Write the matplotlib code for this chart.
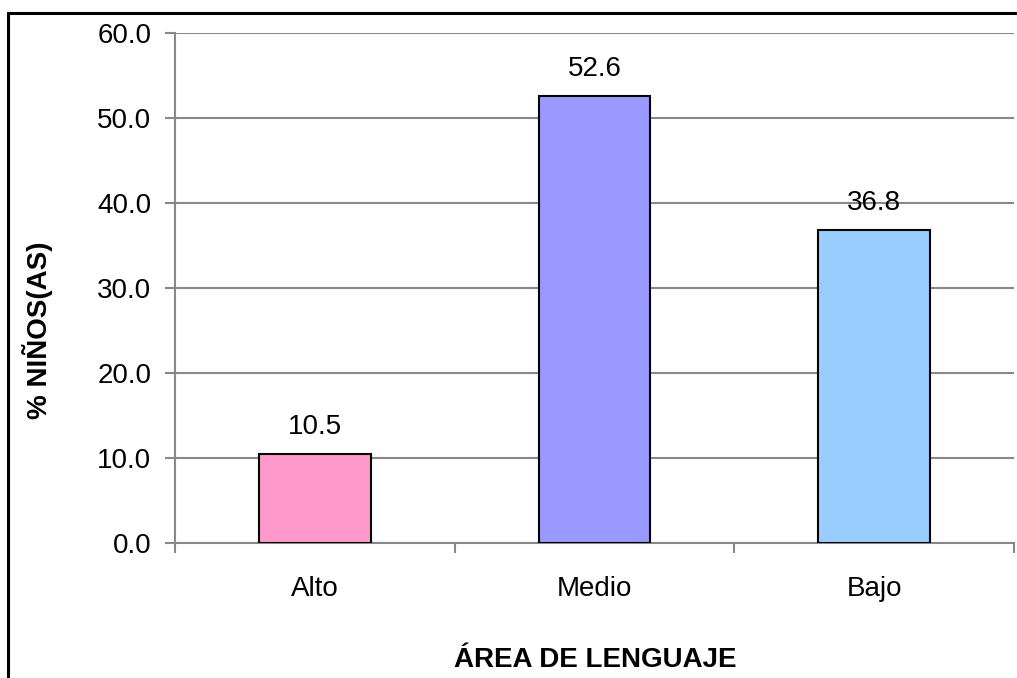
import matplotlib
matplotlib.use("Agg")
import matplotlib.pyplot as plt
from matplotlib.patches import Rectangle

plt.rcParams['font.family'] = ['Liberation Sans', 'DejaVu Sans']

categorias = ['Alto', 'Medio', 'Bajo']
porcentajes = [10.5, 52.6, 36.8]
colores = ['#FF99CC', '#9999FF', '#99CCFF']
ticks_y = [0, 10, 20, 30, 40, 50, 60]

fig = plt.figure(figsize=(10.17, 6.78), dpi=100)
ax = fig.add_axes([175/1017, 1-543/678, (1014-175)/1017, (543-33)/678])

x = list(range(len(categorias)))
barras = ax.bar(x, porcentajes, width=0.4, color=colores, edgecolor='black',
                linewidth=1.5, zorder=3)
for b, v in zip(barras, porcentajes):
    ax.annotate('%.1f' % v, (b.get_x() + b.get_width()/2, v),
                xytext=(0, 10), textcoords='offset points',
                ha='center', va='bottom', fontsize=20)

ax.set_xlim(-0.5, 2.5)
ax.set_ylim(0, 60)
ax.set_yticks(ticks_y)
ax.set_yticklabels(['%.1f' % t for t in ticks_y], fontsize=20)
ax.yaxis.grid(True, color='#888888', linewidth=1.5, zorder=0)

# ticks mayores en los bordes de categoria, etiquetas en el centro
ax.set_xticks([-0.5, 0.5, 1.5, 2.5])
ax.set_xticklabels([])
ax.set_xticks(x, minor=True)
ax.set_xticklabels(categorias, minor=True, fontsize=20)
ax.tick_params(axis='x', which='minor', length=0, pad=24)
ax.tick_params(axis='x', which='major', length=7, width=1.5, color='#888888')
ax.tick_params(axis='y', length=7, width=1.5, color='#888888', pad=10)

for s in ['top', 'right']:
    ax.spines[s].set_visible(False)
for s in ['left', 'bottom']:
    ax.spines[s].set_color('#888888')
    ax.spines[s].set_linewidth(1.5)

fig.text(595/1017, 1-660/678, 'ÁREA DE LENGUAJE', ha='center', va='center',
         fontsize=20, fontweight='bold')
fig.text(38/1017, 1-330/678, '% NIÑOS(AS)', ha='center', va='center',
         rotation=90, fontsize=20, fontweight='bold')

# marco exterior (recortado a la derecha y abajo)
fig.add_artist(Rectangle((8/1017, -0.5), 1.5, 1-13/678+0.5,
                         transform=fig.transFigure, fill=False,
                         edgecolor='black', linewidth=2.2))

fig.savefig('out.png', dpi=100)
